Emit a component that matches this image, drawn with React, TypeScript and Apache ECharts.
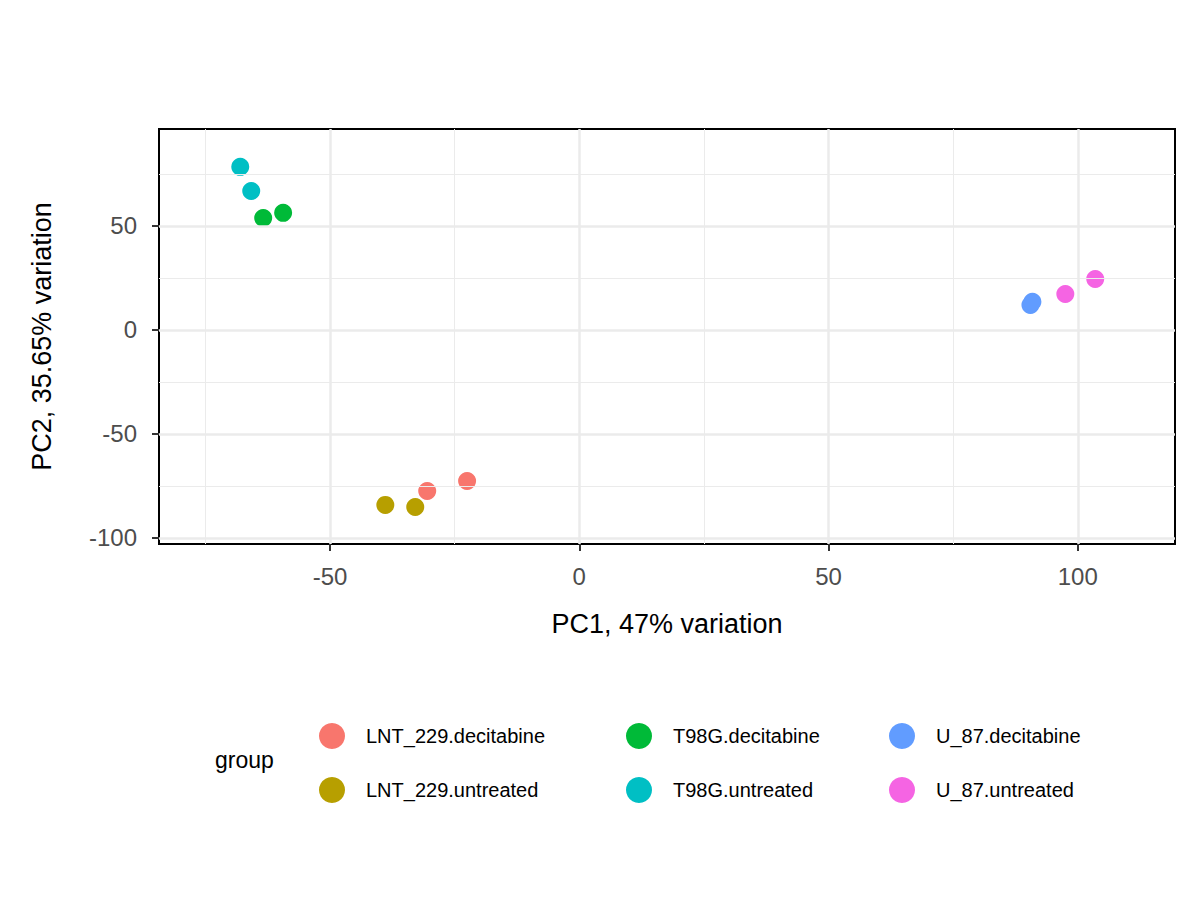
import React, { useEffect, useRef } from 'react';
import * as echarts from 'echarts';

const groups = ['LNT_229.decitabine', 'LNT_229.untreated', 'T98G.decitabine', 'T98G.untreated', 'U_87.decitabine', 'U_87.untreated'];
const colors = ['#F8766D', '#B79F00', '#00BA38', '#00BFC4', '#619CFF', '#F564E3'];
const points: [number, number][][] = [
  [[-30.5, -77.4], [-22.5, -72.6]],
  [[-38.9, -84.1], [-32.9, -85.1]],
  [[-63.4, 53.8], [-59.4, 56.3]],
  [[-68.0, 78.4], [-65.8, 66.8]],
  [[90.5, 12.0], [90.9, 13.5]],
  [[97.5, 17.3], [103.5, 24.5]],
];
const xTicks = [-50, 0, 50, 100];
const yTicks = [-100, -50, 0, 50];
const xMinor = [-75, -25, 25, 75];
const yMinor = [-75, -25, 25, 75];
const legendPos: [number, number][] = [[314, 718], [314, 772], [621, 718], [621, 772], [884, 718], [884, 772]];

const App: React.FC = () => {
  const ref = useRef<HTMLDivElement>(null);
  useEffect(() => {
    document.body.style.margin = '0';
    const chart = echarts.init(ref.current!, null, { renderer: 'svg' });
    const axisCommon = {
      splitLine: { show: false },
      axisLine: { show: true, onZero: false, lineStyle: { color: '#000', width: 2 } },
      axisTick: { show: true, inside: false, length: 7, lineStyle: { color: '#333', width: 2 } },
      axisLabel: { color: '#4d4d4d', fontSize: 24, fontFamily: 'Liberation Sans' },
      nameTextStyle: { color: '#000', fontSize: 27, fontFamily: 'Liberation Sans' },
    };
    const grid = [
      ...xMinor.map(v => ({ xAxis: v, lineStyle: { width: 1 } })),
      ...yMinor.map(v => ({ yAxis: v, lineStyle: { width: 1 } })),
      ...xTicks.map(v => ({ xAxis: v, lineStyle: { width: 2.5 } })),
      ...yTicks.map(v => ({ yAxis: v, lineStyle: { width: 2.5 } })),
    ];
    chart.setOption({
      animation: false,
      grid: { left: 159, top: 129, width: 1016, height: 415, show: true, borderColor: '#000', borderWidth: 2, backgroundColor: '#fff' },
      xAxis: {
        ...axisCommon, type: 'value', min: -84.3, max: 119.5,
        axisTick: { ...axisCommon.axisTick, customValues: xTicks },
        axisLabel: { ...axisCommon.axisLabel, customValues: xTicks, margin: 20 },
        name: 'PC1, 47% variation', nameLocation: 'middle', nameGap: 66,
      },
      yAxis: {
        ...axisCommon, type: 'value', min: -102.9, max: 96.6,
        axisTick: { ...axisCommon.axisTick, customValues: yTicks },
        axisLabel: { ...axisCommon.axisLabel, customValues: yTicks, margin: 22 },
        name: 'PC2, 35.65% variation', nameLocation: 'middle', nameGap: 104,
      },
      legend: groups.map((g, i) => ({
        data: [g], left: legendPos[i][0], top: legendPos[i][1], icon: 'circle',
        itemWidth: 26, itemHeight: 26, itemGap: 10,
        textStyle: { fontSize: 20, color: '#000', fontFamily: 'Liberation Sans', padding: [0, 0, 0, 16] },
      })),
      graphic: [{ type: 'text', left: 215, top: 748, style: { text: 'group', fontSize: 23, fill: '#000', fontFamily: 'Liberation Sans' } }],
      series: [
        {
          type: 'scatter', data: [], silent: true,
          markLine: { silent: true, symbol: 'none', label: { show: false }, lineStyle: { color: '#ebebeb', type: 'solid' }, data: grid },
        },
        ...groups.map((g, i) => ({
          name: g, type: 'scatter', data: points[i], symbolSize: 18,
          itemStyle: { color: colors[i], opacity: 1 },
        })),
      ],
    });
    return () => chart.dispose();
  }, []);
  return <div ref={ref} style={{ width: 1200, height: 900 }} />;
};

export default App;
